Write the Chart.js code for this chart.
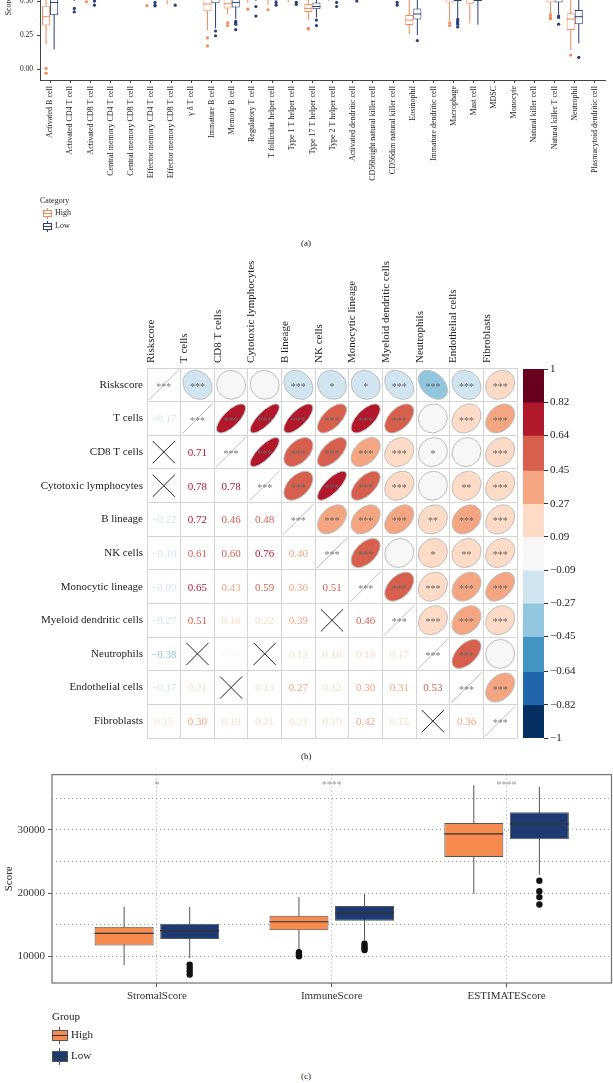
<!DOCTYPE html>
<html>
<head>
<meta charset="utf-8">
<title>Immune infiltration</title>
<script src="https://cdn.jsdelivr.net/npm/chart.js@4.4.1/dist/chart.umd.min.js"></script>
<style>
  body { margin: 0; background: #fff; }
  #page { position: relative; width: 613px; height: 1083px; overflow: hidden; font-family: "Liberation Serif", serif; color: #222; }
  #page canvas, .t, .k { position: absolute; }
  .t { white-space: nowrap; line-height: 1; }
</style>
</head>
<body>
<div id="page">
  <!-- (a) top of the panel is cut off in the figure -->
  <div style="position:absolute;left:0;top:0;width:613px;height:240px;overflow:hidden">
    <canvas id="chartA" width="613" height="320" style="left:0;top:-80px"></canvas>
  </div>
  <div class="t" style="left:40px;top:197px;font-size:8px">Category</div>
  <div class="k" style="left:47px;top:208px;width:1px;height:11px;background:#F58A5A"></div>
  <div class="k" style="left:43px;top:210px;width:7px;height:5px;border:1px solid #F58A5A;background:#fff"></div>
  <div class="k" style="left:43px;top:213px;width:9px;height:1px;background:#F58A5A"></div>
  <div class="t" style="left:55px;top:209px;font-size:8px">High</div>
  <div class="k" style="left:47px;top:221px;width:1px;height:11px;background:#2B3D7A"></div>
  <div class="k" style="left:43px;top:223px;width:7px;height:5px;border:1px solid #2B3D7A;background:#fff"></div>
  <div class="k" style="left:43px;top:226px;width:9px;height:1px;background:#2B3D7A"></div>
  <div class="t" style="left:55px;top:222px;font-size:8px">Low</div>
  <div class="t" style="left:301px;top:239px;font-size:9px">(a)</div>

  <!-- (b) -->
  <canvas id="chartB" width="613" height="505" style="left:0;top:245px"></canvas>
  <canvas id="chartC" width="98" height="390" style="left:515px;top:360px"></canvas>
  <div class="t" style="left:301px;top:752px;font-size:9px">(b)</div>

  <!-- (c) -->
  <canvas id="chartD" width="613" height="250" style="left:0;top:765px"></canvas>
  <div class="t" style="left:52px;top:1011px;font-size:11px">Group</div>
  <div class="k" style="left:59px;top:1027px;width:1px;height:17px;background:#555"></div>
  <div class="k" style="left:52px;top:1030px;width:14px;height:9px;border:1px solid #555;background:#F58B4F"></div>
  <div class="k" style="left:52px;top:1035px;width:16px;height:1px;background:#333"></div>
  <div class="t" style="left:71px;top:1029px;font-size:11px">High</div>
  <div class="k" style="left:59px;top:1048px;width:1px;height:17px;background:#555"></div>
  <div class="k" style="left:52px;top:1051px;width:14px;height:9px;border:1px solid #555;background:#1E3A72"></div>
  <div class="k" style="left:52px;top:1056px;width:16px;height:1px;background:#333"></div>
  <div class="t" style="left:71px;top:1050px;font-size:11px">Low</div>
  <div class="t" style="left:301px;top:1072px;font-size:9px">(c)</div>
</div>

<script>
// ---------- (a) ssGSEA scores per immune cell ----------
const immuneCells = ["Activated B cell", "Activated CD4 T cell", "Activated CD8 T cell",
  "Central memory CD4 T cell", "Central memory CD8 T cell", "Effector memory CD4 T cell",
  "Effector memory CD8 T cell", "γ δ T cell", "Immature B cell", "Memory B cell",
  "Regulatory T cell", "T follicular helper cell", "Type 1 T helper cell", "Type 17 T helper cell",
  "Type 2 T helper cell", "Activated dendritic cell", "CD56bright natural killer cell",
  "CD56dim natural killer cell", "Eosinophil", "Immature dendritic cell", "Macrophage",
  "Mast cell", "MDSC", "Monocyte", "Natural killer cell", "Natural killer T cell",
  "Neutrophil", "Plasmacytoid dendritic cell"];

const highLo  = [0.18,0.56,0.53,0.62,0.60,0.55,0.475,0.58,0.287,0.40,0.485,0.47,0.49,0.36,0.50,0.55,0.58,0.56,0.257,0.56,0.355,0.336,0.62,0.60,0.58,0.41,0.14,0.57];
const highQ1  = [0.32,0.64,0.60,0.70,0.68,0.63,0.58,0.66,0.426,0.446,0.57,0.56,0.57,0.42,0.59,0.64,0.66,0.64,0.324,0.65,0.49,0.48,0.70,0.68,0.66,0.49,0.287,0.65];
const highMed = [0.385,0.68,0.64,0.74,0.72,0.67,0.62,0.70,0.478,0.48,0.61,0.60,0.61,0.446,0.63,0.68,0.70,0.68,0.36,0.69,0.53,0.52,0.74,0.72,0.70,0.53,0.368,0.69];
const highQ3  = [0.465,0.72,0.68,0.78,0.76,0.71,0.66,0.74,0.53,0.52,0.65,0.64,0.64,0.478,0.67,0.72,0.74,0.72,0.397,0.73,0.57,0.56,0.78,0.76,0.74,0.57,0.41,0.73];
const highHi  = [0.62,0.83,0.78,0.90,0.88,0.82,0.78,0.86,0.68,0.62,0.76,0.75,0.74,0.55,0.79,0.84,0.86,0.84,0.52,0.85,0.70,0.68,0.90,0.88,0.86,0.68,0.58,0.85];
const highOut = [[0.005,-0.03],[],[0.495],[],[],[0.466],[],[],[0.23,0.17],[0.34,0.32],[0.44],[0.436],[],[0.30,0.295],[],[],[],[],[],[],[0.34,0.32],[],[],[],[],[0.40,0.38,0.37],[0.103],[]];

const lowLo  = [0.145,0.50,0.52,0.63,0.61,0.51,0.51,0.59,0.30,0.37,0.50,0.50,0.51,0.38,0.51,0.52,0.59,0.52,0.25,0.57,0.37,0.326,0.63,0.61,0.59,0.40,0.19,0.58];
const lowQ1  = [0.395,0.62,0.62,0.71,0.69,0.62,0.60,0.67,0.483,0.453,0.58,0.57,0.58,0.44,0.60,0.65,0.67,0.65,0.365,0.66,0.50,0.50,0.71,0.69,0.67,0.49,0.33,0.66];
const lowMed = [0.49,0.66,0.66,0.75,0.73,0.66,0.64,0.71,0.53,0.49,0.62,0.61,0.62,0.46,0.64,0.69,0.71,0.69,0.405,0.70,0.54,0.54,0.75,0.73,0.71,0.53,0.385,0.70];
const lowQ3  = [0.57,0.70,0.70,0.79,0.77,0.70,0.68,0.75,0.58,0.53,0.66,0.65,0.65,0.49,0.68,0.73,0.75,0.73,0.446,0.74,0.58,0.58,0.79,0.77,0.75,0.57,0.434,0.74];
const lowHi  = [0.72,0.82,0.80,0.91,0.89,0.81,0.79,0.87,0.72,0.64,0.77,0.76,0.75,0.56,0.80,0.85,0.87,0.85,0.56,0.86,0.72,0.70,0.91,0.89,0.87,0.69,0.60,0.86];
const lowOut = [[],[0.446,0.42],[0.50,0.47],[],[],[0.49,0.47,0.465],[0.47],[],[0.28,0.245],[0.35,0.34,0.33,0.29],[0.46,0.39],[0.49,0.47],[0.49,0.475],[0.36,0.32],[0.49,0.46],[0.50],[],[0.49,0.47],[0.21],[],[0.365,0.35,0.34,0.33,0.31],[],[],[],[],[0.39,0.38,0.33],[0.086],[]];
const scoreTicksA = [0, 0.25, 0.5, 0.75, 1];

// ---------- (b) correlation matrix ----------
const corrLabels = ["Riskscore", "T cells", "CD8 T cells", "Cytotoxic lymphocytes", "B lineage",
  "NK cells", "Monocytic lineage", "Myeloid dendritic cells", "Neutrophils", "Endothelial cells", "Fibroblasts"];
// lower triangle, row i has values for columns 0..i-1
const corrLower = [
  [],
  [-0.17],
  [-0.03, 0.71],
  [-0.05, 0.78, 0.78],
  [-0.22, 0.72, 0.46, 0.48],
  [-0.10, 0.61, 0.60, 0.76, 0.40],
  [-0.094, 0.65, 0.43, 0.59, 0.36, 0.51],
  [-0.27, 0.51, 0.16, 0.22, 0.39, 0.07, 0.46],
  [-0.38, 0.05, 0.08, 0.04, 0.12, 0.10, 0.18, 0.17],
  [-0.17, 0.21, 0.06, 0.13, 0.27, 0.12, 0.30, 0.31, 0.53],
  [0.15, 0.30, 0.19, 0.21, 0.21, 0.19, 0.42, 0.15, 0.02, 0.36]
];
// upper triangle significance, row i has stars for columns i+1..10
const corrStars = [
  ["***", "", "", "***", "*", "*", "***", "***", "***", "***"],
  ["***", "***", "***", "***", "***", "***", "", "***", "***"],
  ["***", "***", "***", "***", "***", "*", "", "***"],
  ["***", "***", "***", "***", "", "**", "***"],
  ["***", "***", "***", "**", "***", "***"],
  ["***", "", "*", "**", "***"],
  ["***", "***", "***", "***"],
  ["***", "***", "***"],
  ["***", ""],
  ["***"],
  []
];
const cbTicks = [1, 0.82, 0.64, 0.45, 0.27, 0.09, -0.09, -0.27, -0.45, -0.64, -0.82, -1];
const binColors = ["#67001F", "#B2182B", "#D6604D", "#F4A582", "#FDDBC7", "#F7F7F7",
  "#D1E5F0", "#92C5DE", "#4393C3", "#2166AC", "#053061"];

// ---------- (c) ESTIMATE scores ----------
const scoreTypes = ["StromalScore", "ImmuneScore", "ESTIMATEScore"];
const estHighLo  = [8590, 11000, 19870];
const estHighQ1  = [11720, 14140, 25700];
const estHighMed = [13640, 15470, 29370];
const estHighQ3  = [14690, 16410, 31090];
const estHighHi  = [17860, 19370, 37080];
const estHighOut = [[], [10650, 10400, 10150, 10000], []];
const estLowLo  = [9720, 12500, 22920];
const estLowQ1  = [12760, 15630, 28540];
const estLowMed = [14060, 16830, 30940];
const estLowQ3  = [15160, 17970, 32810];
const estLowHi  = [17810, 19920, 36800];
const estLowOut = [[8670, 8140, 7660, 7110], [12000, 11600, 11300, 11000], [21950, 20310, 19370, 18200]];
const estGridTicks = [10000, 15000, 20000, 25000, 30000, 35000];
const estStars = ["*", "****", "****"];

Chart.defaults.font.family = '"Liberation Serif", serif';
Chart.defaults.color = '#222';

const ORANGE_A = '#F58A5A', NAVY_A = '#2B3D7A';

// whiskers behind the box, median + outliers on top
const boxPlot = {
  id: 'boxPlot',
  beforeDatasetsDraw(chart) {
    const { ctx, scales: { y } } = chart;
    chart.data.datasets.forEach((ds, d) => {
      const b = ds.box;
      chart.getDatasetMeta(d).data.forEach((bar, i) => {
        ctx.save();
        ctx.strokeStyle = b.whisker;
        ctx.lineWidth = 1;
        ctx.beginPath();
        ctx.moveTo(bar.x, y.getPixelForValue(b.lo[i]));
        ctx.lineTo(bar.x, y.getPixelForValue(b.hi[i]));
        ctx.stroke();
        ctx.restore();
      });
    });
  },
  afterDatasetsDraw(chart) {
    const { ctx, scales: { y } } = chart;
    chart.data.datasets.forEach((ds, d) => {
      const b = ds.box;
      chart.getDatasetMeta(d).data.forEach((bar, i) => {
        const ym = y.getPixelForValue(b.med[i]);
        ctx.save();
        ctx.strokeStyle = b.median;
        ctx.lineWidth = b.medWidth;
        ctx.beginPath();
        ctx.moveTo(bar.x - bar.width / 2, ym);
        ctx.lineTo(bar.x + bar.width / 2, ym);
        ctx.stroke();
        ctx.fillStyle = b.dot;
        b.out[i].forEach(v => {
          ctx.beginPath();
          ctx.arc(bar.x, y.getPixelForValue(v), b.dotR, 0, Math.PI * 2);
          ctx.fill();
        });
        ctx.restore();
      });
    });
  }
};

// ---------- chart (a) ----------
function boxSetA(label, color, lo, q1, med, q3, hi, out) {
  return {
    label, data: q1.map((v, i) => [v, q3[i]]),
    backgroundColor: '#fff', borderColor: color, borderWidth: 1, borderSkipped: false,
    box: { lo, med, hi, out, whisker: color, median: color, medWidth: 1, dot: color, dotR: 1.6 }
  };
}
new Chart(document.getElementById('chartA'), {
  type: 'bar',
  data: {
    labels: immuneCells,
    datasets: [
      boxSetA('High', ORANGE_A, highLo, highQ1, highMed, highQ3, highHi, highOut),
      boxSetA('Low', NAVY_A, lowLo, lowQ1, lowMed, lowQ3, lowHi, lowOut)
    ]
  },
  options: {
    responsive: false, animation: false,
    categoryPercentage: 0.8, barPercentage: 1,
    layout: { padding: { top: 13, right: 8, left: 0, bottom: 0 } },
    plugins: { legend: { display: false }, tooltip: { enabled: false } },
    scales: {
      x: {
        offset: true,
        grid: { offset: false, drawOnChartArea: false, tickLength: 3, color: '#444' },
        border: { color: '#444', width: 1 },
        ticks: { autoSkip: false, minRotation: 90, maxRotation: 90, font: { size: 8 }, color: '#222', padding: 3 },
        afterFit: s => { s.height = 160; }
      },
      y: {
        min: -0.08, max: 1.0,
        afterBuildTicks: s => { s.ticks = scoreTicksA.map(v => ({ value: v })); },
        grid: { drawOnChartArea: false, tickLength: 3, color: '#444' },
        border: { color: '#444', width: 1 },
        ticks: { callback: v => v.toFixed(2), font: { size: 7.5 }, color: '#222', padding: 4 },
        title: { display: true, text: 'Score', font: { size: 8 }, padding: { top: 4, bottom: 0 } },
        afterFit: s => { s.width = 40; }
      }
    }
  },
  plugins: [boxPlot]
});

// ---------- chart (b) ----------
function binColor(v) {
  for (let k = 0; k < binColors.length; k++) {
    if (v >= cbTicks[k + 1]) return binColors[k];
  }
  return binColors[binColors.length - 1];
}
const corrPoints = [];
corrLabels.forEach((rowName, i) => {
  corrLabels.forEach((colName, j) => {
    let part, v = 1, s = '***';
    if (i === j) part = 'diag';
    else if (j < i) { part = 'lower'; v = corrLower[i][j]; s = corrStars[j][i - j - 1]; }
    else { part = 'upper'; v = corrLower[j][i]; s = corrStars[i][j - i - 1]; }
    corrPoints.push({ x: colName, y: rowName, v, s, part });
  });
});

const corrCells = {
  id: 'corrCells',
  afterDatasetsDraw(chart) {
    const { ctx, scales: { x, y } } = chart;
    const cw = x.getPixelForValue(1) - x.getPixelForValue(0);
    const ch = y.getPixelForValue(1) - y.getPixelForValue(0);
    const pts = chart.data.datasets[0].data;
    chart.getDatasetMeta(0).data.forEach((el, k) => {
      const c = pts[k], cx = el.x, cy = el.y;
      ctx.save();
      ctx.textAlign = 'center';
      ctx.textBaseline = 'middle';
      if (c.part === 'diag') {
        ctx.strokeStyle = '#bdbdbd';
        ctx.lineWidth = 1;
        ctx.beginPath();
        ctx.moveTo(cx - 0.45 * cw, cy + 0.45 * ch);
        ctx.lineTo(cx + 0.45 * cw, cy - 0.45 * ch);
        ctx.stroke();
        ctx.fillStyle = '#777';
        ctx.font = '10px "Liberation Serif", serif';
        ctx.fillText(c.s, cx, cy + 2.5);
      } else if (c.part === 'upper') {
        const a = Math.acos(c.v) / 2, k2 = 0.86 * cw;
        ctx.beginPath();
        ctx.ellipse(cx, cy, k2 * Math.cos(a) / Math.SQRT2, k2 * Math.sin(a) / Math.SQRT2, -Math.PI / 4, 0, Math.PI * 2);
        ctx.fillStyle = binColor(c.v);
        ctx.fill();
        ctx.strokeStyle = '#bdbdbd';
        ctx.lineWidth = 1;
        ctx.stroke();
        if (c.s) {
          ctx.fillStyle = '#666';
          ctx.font = '10px "Liberation Serif", serif';
          ctx.fillText(c.s, cx, cy + 2.5);
        }
      } else {
        if (c.s === '') {
          ctx.strokeStyle = '#222';
          ctx.lineWidth = 1;
          ctx.beginPath();
          ctx.moveTo(cx - 0.33 * cw, cy - 0.33 * ch);
          ctx.lineTo(cx + 0.33 * cw, cy + 0.33 * ch);
          ctx.moveTo(cx + 0.33 * cw, cy - 0.33 * ch);
          ctx.lineTo(cx - 0.33 * cw, cy + 0.33 * ch);
          ctx.stroke();
        } else {
          const txt = (c.v < 0 ? '\u2212' : '') + Math.abs(c.v).toFixed(2);
          ctx.fillStyle = binColor(c.v);
          ctx.font = '11px "Liberation Serif", serif';
          ctx.fillText(txt, cx, cy + 1);
        }
      }
      ctx.restore();
    });
  }
};

new Chart(document.getElementById('chartB'), {
  type: 'scatter',
  data: { datasets: [{ data: corrPoints, pointRadius: 0, pointHoverRadius: 0 }] },
  options: {
    responsive: false, animation: false,
    layout: { padding: { top: 0, right: 96, bottom: 12, left: 0 } },
    plugins: { legend: { display: false }, tooltip: { enabled: false } },
    scales: {
      x: {
        type: 'category', labels: corrLabels, position: 'top', offset: true,
        grid: { offset: true, color: '#d4d4d4', drawTicks: false },
        border: { display: false },
        ticks: { autoSkip: false, minRotation: 90, maxRotation: 90, font: { size: 11 }, color: '#222', padding: 5 },
        afterFit: s => { s.height = 123; }
      },
      y: {
        type: 'category', labels: corrLabels, offset: true,
        grid: { offset: true, color: '#d4d4d4', drawTicks: false },
        border: { display: false },
        ticks: { autoSkip: false, font: { size: 11 }, color: '#222', padding: 4 },
        afterFit: s => { s.width = 147; }
      }
    }
  },
  plugins: [corrCells]
});

// colour bar
new Chart(document.getElementById('chartC'), {
  type: 'bar',
  data: {
    labels: [''],
    datasets: binColors.map((c, k) => ({
      data: [[cbTicks[k + 1], cbTicks[k]]], backgroundColor: c, borderWidth: 0,
      grouped: false, barPercentage: 1, categoryPercentage: 1
    }))
  },
  options: {
    responsive: false, animation: false,
    layout: { padding: { top: 9, bottom: 12, left: 8, right: 0 } },
    plugins: { legend: { display: false }, tooltip: { enabled: false } },
    scales: {
      x: { display: false },
      y: {
        position: 'right', min: -1, max: 1,
        afterBuildTicks: s => { s.ticks = cbTicks.map(v => ({ value: v })); },
        grid: { drawOnChartArea: false, tickLength: 4, color: '#333' },
        border: { display: false },
        ticks: {
          autoSkip: false, font: { size: 11 }, color: '#222', padding: 2,
          callback: v => (v < 0 ? '\u2212' : '') + (Math.abs(v) === 1 ? '1' : Math.abs(v).toFixed(2))
        },
        afterFit: s => { s.width = 69; }
      }
    }
  }
});

// ---------- chart (c) ----------
const frameAndStars = {
  id: 'frameAndStars',
  afterDraw(chart) {
    const { ctx, chartArea: a, scales: { x, y } } = chart;
    ctx.save();
    ctx.strokeStyle = '#7a7a7a';
    ctx.lineWidth = 1.3;
    ctx.strokeRect(a.left, a.top, a.right - a.left, a.bottom - a.top);
    ctx.fillStyle = '#999';
    ctx.font = '10px "Liberation Serif", serif';
    ctx.textAlign = 'center';
    ctx.textBaseline = 'middle';
    estStars.forEach((s, i) => ctx.fillText(s, x.getPixelForValue(i), y.getPixelForValue(37000)));
    ctx.restore();
  }
};
function boxSetC(label, color, lo, q1, med, q3, hi, out) {
  return {
    label, data: q1.map((v, i) => ({ x: i, y: [v, q3[i]] })),
    backgroundColor: color, borderColor: '#555', borderWidth: 1, borderSkipped: false,
    box: { lo, med, hi, out, whisker: '#555', median: '#333', medWidth: 1.2, dot: '#111', dotR: 3.2 }
  };
}
new Chart(document.getElementById('chartD'), {
  type: 'bar',
  data: {
    datasets: [
      boxSetC('High', '#F58B4F', estHighLo, estHighQ1, estHighMed, estHighQ3, estHighHi, estHighOut),
      boxSetC('Low', '#1E3A72', estLowLo, estLowQ1, estLowMed, estLowQ3, estLowHi, estLowOut)
    ]
  },
  options: {
    responsive: false, animation: false,
    categoryPercentage: 0.75, barPercentage: 0.9,
    layout: { padding: { top: 7, right: 1.5, left: 0, bottom: 0 } },
    plugins: { legend: { display: false }, tooltip: { enabled: false } },
    scales: {
      x: {
        type: 'linear', min: -0.6, max: 2.6, offset: false,
        afterBuildTicks: s => { s.ticks = scoreTypes.map((_, i) => ({ value: i })); },
        grid: { offset: false, color: '#a0a0a0', tickLength: 4, tickColor: '#555' },
        border: { display: false, dash: [1, 3] },
        ticks: { autoSkip: false, maxRotation: 0, callback: v => scoreTypes[v], font: { size: 11 }, color: '#333', padding: 3 },
        afterFit: s => { s.height = 32; }
      },
      y: {
        min: 5780, max: 38750,
        afterBuildTicks: s => { s.ticks = estGridTicks.map(v => ({ value: v })); },
        grid: {
          color: '#a0a0a0', tickLength: 4,
          tickColor: c => (c.tick && c.tick.value % 10000 === 0) ? '#555' : 'rgba(0,0,0,0)'
        },
        border: { display: false, dash: [1, 3] },
        ticks: { autoSkip: false, callback: v => (v % 10000 === 0 ? String(v) : ''), font: { size: 11 }, color: '#333', padding: 3 },
        title: { display: true, text: 'Score', font: { size: 11 }, color: '#222', padding: { top: 3, bottom: 0 } },
        afterFit: s => { s.width = 52; }
      }
    }
  },
  plugins: [boxPlot, frameAndStars]
});
</script>
</body>
</html>
